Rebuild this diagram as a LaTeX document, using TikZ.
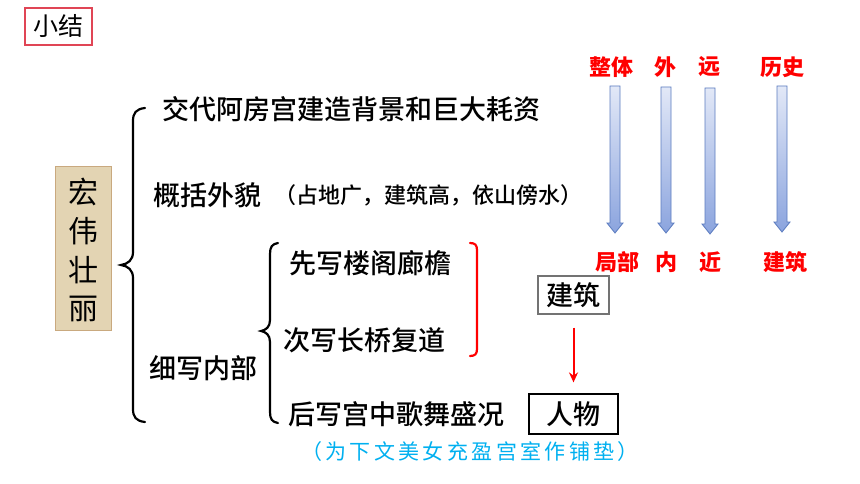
\documentclass[tikz,border=0pt]{standalone}
\usepackage{fontspec}
\newfontfamily\cjk{Noto Sans CJK SC}
\newfontfamily\cjkmed{Noto Sans CJK SC Medium}
\usetikzlibrary{arrows.meta}
\definecolor{tanfill}{HTML}{E3D4B3}
\definecolor{tanline}{HTML}{C9A97F}
\definecolor{boxred}{HTML}{E04555}
\definecolor{skyblue}{HTML}{00B0F0}
\definecolor{arrtop}{HTML}{E2E8F7}
\definecolor{arrbot}{HTML}{8BA4DE}
\definecolor{arrline}{HTML}{5B7CC0}
\tikzset{
  bodytext/.style={font=\cjkmed\fontsize{27}{32}\selectfont, anchor=west, inner sep=0pt},
  notetext/.style={font=\cjkmed\fontsize{22}{26}\selectfont, anchor=west, inner sep=0pt},
  redlabel/.style={font=\cjk\bfseries\fontsize{22}{26}\selectfont, text=red, inner sep=0pt},
  framebox/.style={draw, line width=1.2pt, inner sep=0pt, font=\cjkmed\fontsize{27}{32}\selectfont},
  bracepath/.style={line width=2.2pt, line cap=round},
  bluearrow/.style={top color=arrtop, bottom color=arrbot, draw=arrline, line width=0.8pt}
}
\begin{document}
\begin{tikzpicture}[x=1pt,y=-1pt]
\useasboundingbox (0,0) rectangle (860,484);
\fill[white] (0,0) rectangle (860,484);

% title box
\node[draw=boxred, line width=1.2pt, minimum width=67pt, minimum height=37pt, inner sep=0pt,
      font=\cjk\fontsize{25}{30}\selectfont] (title) at (58.5,26.5) {小结};

% tan vertical box
\node[draw=tanline, fill=tanfill, line width=1pt, minimum width=56pt, minimum height=163pt, inner sep=0pt] (hw) at (83,248.5) {};
\node[font=\cjk\fontsize{30}{36}\selectfont, inner sep=0pt] (c1) at (83,192) {宏};
\node[font=\cjk\fontsize{30}{36}\selectfont, inner sep=0pt] (c2) at (83,231) {伟};
\node[font=\cjk\fontsize{30}{36}\selectfont, inner sep=0pt] (c3) at (83,270) {壮};
\node[font=\cjk\fontsize{30}{36}\selectfont, inner sep=0pt] (c4) at (83,309) {丽};

% big brace
\draw[bracepath] (145,108) .. controls (136,109) and (133,113) .. (133,121) -- (133,252)
  .. controls (133,260) and (128,264) .. (121,265)
  .. controls (128,266) and (133,270) .. (133,278) -- (133,409)
  .. controls (133,417) and (136,421) .. (145,422);

% first level texts
\node[bodytext] (t1) at (162,109) {交代阿房宫建造背景和巨大耗资};
\node[bodytext] (t2) at (153,195) {概括外貌};
\node[notetext] (t2n) at (274,195) {（占地广，建筑高，依山傍水）};
\node[bodytext] (t3) at (149,368) {细写内部};

% second brace
\draw[bracepath] (278,243) .. controls (272,244) and (270,247) .. (270,254) -- (270,320)
  .. controls (270,327) and (266,330) .. (261,331)
  .. controls (266,332) and (270,335) .. (270,342) -- (270,412)
  .. controls (270,419) and (272,422) .. (278,423);

\node[bodytext] (s1) at (289,263) {先写楼阁廊檐};
\node[bodytext] (s2) at (283,340) {次写长桥复道};
\node[bodytext] (s3) at (288,414) {后写宫中歌舞盛况};

% red bracket
\draw[red, bracepath] (470,243) .. controls (475,243) and (477,245) .. (477,250) -- (477,349)
  .. controls (477,354) and (475,356) .. (470,356);

% boxes
\node[framebox, draw=black!55, minimum width=71pt, minimum height=38pt] (jz) at (573.5,295) {建筑};
\node[framebox, minimum width=89pt, minimum height=40pt] (rw) at (573.5,414) {人物};
\draw[red, line width=2pt, -{Stealth[length=10pt,width=9pt]}, shorten <=13pt, shorten >=11pt] (jz) -- (rw);

% blue note
\node[font=\cjk\fontsize{21}{25}\selectfont\addfontfeature{LetterSpace=16}, text=skyblue, inner sep=0pt] (note) at (470,452) {（为下文美女充盈宫室作铺垫）};

% right side labels
\node[redlabel] (a1) at (611,67) {整体};
\node[redlabel] (a2) at (665,67) {外};
\node[redlabel] (a3) at (709,67) {远};
\node[redlabel] (a4) at (782,67) {历史};
\node[redlabel] (b1) at (617,262) {局部};
\node[redlabel] (b2) at (666,262) {内};
\node[redlabel] (b3) at (710,262) {近};
\node[redlabel] (b4) at (785,262) {建筑};

% block arrows
\foreach \x/\t/\b in {615/86/233, 666/87/233, 710/88/234, 782/86/232}{
  \shadedraw[bluearrow] (\x-5,\t) -- (\x+5,\t) -- (\x+5,\b-10) -- (\x+8,\b-10) -- (\x,\b) -- (\x-8,\b-10) -- (\x-5,\b-10) -- cycle;
}
\end{tikzpicture}
\end{document}
